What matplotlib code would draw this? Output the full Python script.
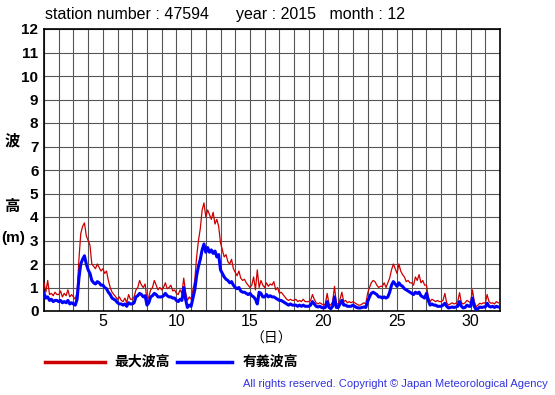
import numpy as np
import matplotlib
matplotlib.use('Agg')
import matplotlib.pyplot as plt

plt.rcParams['font.family'] = ['Liberation Sans', 'Noto Sans CJK JP', 'DejaVu Sans']

# 3-hourly values, 8 per day, from Dec 1 00h to Dec 32 00h
max_wave = [
    1.2, 0.8, 1.3, 0.7, 0.75, 0.65, 0.8, 0.7,
    0.7, 0.85, 0.6, 0.75, 0.65, 0.9, 0.6, 0.7,
    0.6, 0.5, 0.8, 2.2, 3.3, 3.6, 3.75, 3.2,
    3.0, 2.8, 2.0, 1.9, 1.8, 2.0, 1.85, 1.7,
    1.8, 1.6, 1.7, 1.3, 1.0, 0.8, 0.7, 0.6,
    0.5, 0.6, 0.45, 0.4, 0.55, 0.35, 0.7, 0.5,
    0.5, 0.6, 0.9, 1.0, 1.3, 1.1, 1.0, 1.15,
    0.45, 0.6, 0.9, 1.0, 1.3, 1.1, 0.9, 1.0,
    0.9, 1.0, 1.2, 0.95, 1.0, 1.1, 0.85, 0.9,
    0.75, 0.7, 0.9, 0.75, 1.4, 0.8, 0.45, 0.6,
    0.5, 0.9, 1.3, 2.3, 3.0, 3.5, 4.3, 4.6,
    4.0, 4.3, 4.1, 3.9, 4.2, 3.7, 3.9, 3.6,
    2.9, 2.6, 2.3, 2.4, 2.1, 2.0, 2.2, 1.8,
    1.65, 1.5, 1.7, 1.4, 1.3, 1.35, 1.2, 1.1,
    1.0, 1.1, 1.45, 0.9, 1.75, 1.0, 1.3, 1.1,
    1.0, 1.2, 1.05, 1.15, 1.1, 1.25, 0.9, 1.0,
    0.75, 0.8, 0.7, 0.6, 0.5, 0.45, 0.5, 0.45,
    0.45, 0.5, 0.4, 0.45, 0.4, 0.5, 0.4, 0.4,
    0.4, 0.45, 0.7, 0.5, 0.35, 0.3, 0.35, 0.3,
    0.25, 0.3, 0.75, 0.3, 0.25, 0.4, 1.05, 0.3,
    0.3, 0.5, 0.8, 0.4, 0.45, 0.35, 0.4, 0.35,
    0.4, 0.35, 0.3, 0.25, 0.25, 0.3, 0.35, 0.3,
    0.75, 1.0, 1.2, 1.3, 1.25, 1.1, 1.0, 1.05,
    1.05, 1.2, 1.0, 1.2, 1.4, 1.75, 2.0, 1.8,
    1.6, 2.0, 1.7, 1.55, 1.45, 1.25, 1.3, 1.2,
    1.2, 1.1, 1.45, 1.3, 1.55, 1.2, 1.3, 1.1,
    1.1, 0.6, 0.4, 0.5, 0.45, 0.4, 0.45, 0.4,
    0.4, 0.45, 0.75, 0.35, 0.25, 0.3, 0.35, 0.3,
    0.33, 0.4, 0.78, 0.35, 0.3, 0.35, 0.45, 0.4,
    0.35, 0.9, 0.4, 0.18, 0.25, 0.33, 0.3, 0.35,
    0.33, 0.7, 0.4, 0.33, 0.35, 0.3, 0.4, 0.35,
    0.33,
]
sig_wave = [
    0.75, 0.55, 0.6, 0.45, 0.5, 0.4, 0.45, 0.45,
    0.4, 0.45, 0.35, 0.4, 0.35, 0.45, 0.3, 0.35,
    0.3, 0.25, 0.5, 1.4, 2.0, 2.2, 2.35, 2.0,
    1.75, 1.6, 1.3, 1.2, 1.15, 1.25, 1.2, 1.1,
    1.1, 1.0, 0.95, 0.8, 0.7, 0.55, 0.5, 0.45,
    0.35, 0.3, 0.3, 0.25, 0.3, 0.2, 0.35, 0.3,
    0.3, 0.35, 0.6, 0.65, 0.75, 0.7, 0.6, 0.65,
    0.25, 0.35, 0.6, 0.65, 0.75, 0.7, 0.6, 0.6,
    0.6, 0.65, 0.75, 0.65, 0.6, 0.6, 0.55, 0.55,
    0.45, 0.4, 0.5, 0.45, 1.0, 0.5, 0.15, 0.25,
    0.2, 0.55, 0.9, 1.5, 1.9, 2.2, 2.6, 2.85,
    2.5, 2.7, 2.5, 2.6, 2.45, 2.55, 2.3, 2.4,
    1.75, 1.6, 1.45, 1.35, 1.3, 1.2, 1.25, 1.1,
    1.0, 0.95, 1.0, 0.85, 0.8, 0.8, 0.75, 0.7,
    0.75, 0.65, 0.6, 0.5, 0.3, 0.8, 0.75, 0.6,
    0.6, 0.7, 0.6, 0.65, 0.6, 0.6, 0.55, 0.5,
    0.45, 0.45, 0.4, 0.35, 0.3, 0.25, 0.3, 0.25,
    0.25, 0.25, 0.2, 0.25, 0.2, 0.25, 0.2, 0.2,
    0.2, 0.25, 0.4, 0.3, 0.2, 0.17, 0.2, 0.15,
    0.13, 0.15, 0.4, 0.15, 0.1, 0.2, 0.6, 0.15,
    0.15, 0.3, 0.45, 0.25, 0.25, 0.2, 0.2, 0.2,
    0.25, 0.2, 0.15, 0.13, 0.13, 0.15, 0.17, 0.15,
    0.4, 0.6, 0.75, 0.8, 0.75, 0.7, 0.6, 0.6,
    0.55, 0.6, 0.55, 0.6, 0.8, 1.1, 1.25, 1.15,
    1.05, 1.2, 1.1, 1.05, 0.95, 0.9, 0.85, 0.8,
    0.75, 0.7, 0.8, 0.75, 0.8, 0.65, 0.6, 0.55,
    0.75, 0.45, 0.25, 0.3, 0.25, 0.25, 0.2, 0.2,
    0.2, 0.25, 0.33, 0.2, 0.13, 0.15, 0.17, 0.15,
    0.17, 0.2, 0.4, 0.2, 0.13, 0.15, 0.25, 0.2,
    0.2, 0.55, 0.2, 0.05, 0.1, 0.17, 0.15, 0.17,
    0.17, 0.33, 0.2, 0.17, 0.2, 0.15, 0.2, 0.17,
    0.17,
]
days = 1 + np.arange(len(max_wave)) / 8.0

x_labels = [5, 10, 15, 20, 25, 30]
y_ticks = list(range(0, 13))

fig = plt.figure(figsize=(5.55, 3.95), dpi=100)
ax = fig.add_axes([44 / 555, 84 / 395, 456 / 555, 282 / 395])

ax.plot(days, max_wave, color='#cc0000', lw=0.9, zorder=3)
ax.plot(days, sig_wave, color='#0000ff', lw=2.2, zorder=4)

ax.set_xlim(1, 32)
ax.set_ylim(0, 12)
ax.set_xticks(x_labels)
ax.set_xticks(range(1, 33), minor=True)
ax.set_yticks(y_ticks)
ax.grid(True, which='both', color='#555555', lw=0.8)
ax.tick_params(which='both', length=0)
ax.tick_params(axis='y', pad=4, labelsize=11)
ax.tick_params(axis='x', pad=2, labelsize=11.5)
for lab in ax.get_yticklabels():
    lab.set_fontweight('bold')
for sp in ax.spines.values():
    sp.set_linewidth(1.2)

fig.text(45 / 555, 1 - 15 / 395, 'station number : 47594      year : 2015   month : 12',
         fontsize=11.5, va='center', ha='left')

cjk = ['Noto Sans CJK JP', 'DejaVu Sans']
fig.text(12 / 555, 1 - 140 / 395, '波', fontsize=11, fontweight='bold', family=cjk, ha='center', va='center')
fig.text(12 / 555, 1 - 206 / 395, '高', fontsize=11, fontweight='bold', family=cjk, ha='center', va='center')
fig.text(13 / 555, 1 - 238 / 395, '(m)', fontsize=11, fontweight='bold', ha='center', va='center')
fig.text(271 / 555, 1 - 339 / 395, '（日）', fontsize=10, family=cjk, ha='center', va='center')

# legend
fig.add_artist(plt.Line2D([45 / 555, 105 / 555], [1 - 362 / 395] * 2, color='#cc0000', lw=2.5))
fig.text(114 / 555, 1 - 362 / 395, '最大波高', fontsize=10, fontweight='bold', family=cjk, va='center')
fig.add_artist(plt.Line2D([177 / 555, 232 / 555], [1 - 362 / 395] * 2, color='#0000ff', lw=2.5))
fig.text(243 / 555, 1 - 362 / 395, '有義波高', fontsize=10, fontweight='bold', family=cjk, va='center')

fig.text(548 / 555, 1 - 384 / 395, 'All rights reserved. Copyright © Japan Meteorological Agency',
         fontsize=8, color='#3333dd', ha='right', va='center')

fig.savefig('out.png', dpi=100)
